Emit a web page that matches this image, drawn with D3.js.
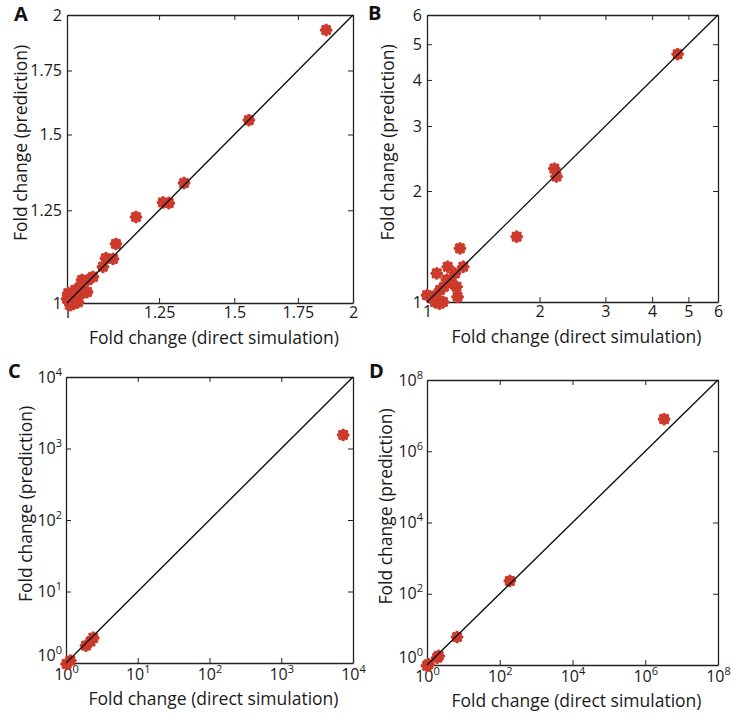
<!DOCTYPE html>
<html>
<head>
<meta charset="utf-8">
<script src="https://cdn.jsdelivr.net/npm/d3@7"></script>
<style>
  body { margin: 0; background: #fff; }
  svg { display: block; font-family: "Open Sans", "Liberation Sans", sans-serif; }
</style>
</head>
<body>
<div id="chart"></div>
<script>
// panel A: small fold changes
const aDirect = [1.874, 1.554, 1.328, 1.262, 1.280, 1.182, 1.126, 1.099, 1.118, 1.091, 1.065, 1.052, 1.037,
  1.032, 1.020, 1.003, 1.000, 1.027, 1.020, 1.039, 1.012, 1.050, 1.008, 1.015];
const aPredict = [1.929, 1.553, 1.335, 1.274, 1.272, 1.230, 1.153, 1.114, 1.112, 1.091, 1.065, 1.057, 1.057,
  1.039, 1.032, 1.024, 1.010, 1.002, 1.007, 1.024, 1.014, 1.027, 0.995, 0.998];
const aTicks = [1, 1.25, 1.5, 1.75, 2];

// panel B
const bDirect = [4.68, 2.19, 2.22, 1.737, 1.225, 1.25, 1.136, 1.062, 1.188, 1.164, 1.20, 1.207, 1.083,
  1.00, 1.062, 1.104, 1.04, 1.13, 1.11, 1.08, 1.05];
const bPredict = [4.70, 2.30, 2.19, 1.504, 1.398, 1.246, 1.246, 1.196, 1.196, 1.124, 1.10, 1.033, 1.078,
  1.044, 1.011, 1.000, 1.033, 1.15, 1.10, 0.99, 1.00];
const bTicks = [1, 2, 3, 4, 5, 6];

// panel C
const cDirect = [1.02, 1.15, 1.9, 2.2, 2.4, 7300];
const cPredict = [0.97, 1.08, 1.75, 2.0, 2.25, 1550];
const cTicks = [1, 10, 100, 1000, 10000];

// panel D
const dDirect = [1.0, 1.1, 1.9, 2.1, 6.7, 190, 3.3e6];
const dPredict = [0.95, 1.05, 1.6, 1.8, 6.1, 230, 8e6];
const dTicks = [1, 1e2, 1e4, 1e6, 1e8];

const panels = [
  { letter: "A", lx: 14, ly: 21, x0: 67, y0: 15, w: 286, h: 288, dom: [1, 2], ticks: aTicks, pow: false, ylab: -46, xs: aDirect, ys: aPredict },
  { letter: "B", lx: 368, ly: 20, x0: 427, y0: 15, w: 291, h: 287, dom: [1, 6], ticks: bTicks, pow: false, ylab: -39, xs: bDirect, ys: bPredict },
  { letter: "C", lx: 8, ly: 378, x0: 66, y0: 377, w: 287, h: 286, dom: [1, 1e4], ticks: cTicks, pow: true, ylab: -40, xs: cDirect, ys: cPredict },
  { letter: "D", lx: 369, ly: 378, x0: 427, y0: 380, w: 291, h: 285, dom: [1, 1e8], ticks: dTicks, pow: true, ylab: -41, xs: dDirect, ys: dPredict }
];

const svg = d3.select("#chart").append("svg")
  .attr("width", 731)
  .attr("height", 719);

const red = "#cc3a2b";

function powLabel(sel, d) {
  const e = Math.round(Math.log10(d));
  sel.text(null);
  sel.append("tspan").text("10");
  sel.append("tspan").attr("font-size", 11).attr("dy", -7).text(e);
}

panels.forEach(p => {
  const x = d3.scaleLog().domain(p.dom).range([p.x0, p.x0 + p.w]);
  const y = d3.scaleLog().domain(p.dom).range([p.y0 + p.h, p.y0]);
  const g = svg.append("g");

  const fmt = p.pow ? (() => "") : (d => String(d));

  const xAxis = g.append("g").attr("transform", `translate(0,${p.y0 + p.h})`)
    .call(d3.axisBottom(x).tickValues(p.ticks).tickSizeInner(-5).tickSizeOuter(0).tickPadding(p.pow ? 6 : 4).tickFormat(fmt));
  const yAxis = g.append("g").attr("transform", `translate(${p.x0},0)`)
    .call(d3.axisLeft(y).tickValues(p.ticks).tickSizeInner(-5).tickSizeOuter(0).tickPadding(p.pow ? 4 : 5).tickFormat(fmt));
  g.append("g").attr("transform", `translate(0,${p.y0})`)
    .call(d3.axisTop(x).tickValues(p.ticks).tickSizeInner(-5).tickSizeOuter(0).tickFormat(""));
  g.append("g").attr("transform", `translate(${p.x0 + p.w},0)`)
    .call(d3.axisRight(y).tickValues(p.ticks).tickSizeInner(-5).tickSizeOuter(0).tickFormat(""));

  g.selectAll(".domain").attr("stroke", "#222").attr("stroke-width", 1.3);
  g.selectAll(".tick line").attr("stroke", "#222").attr("stroke-width", 1);
  g.selectAll(".tick text").attr("font-size", 16).attr("fill", "#1a1a1a")
    .attr("font-family", "\"Open Sans\", sans-serif");

  if (p.pow) {
    xAxis.selectAll(".tick text").each(function (d) { powLabel(d3.select(this), d); });
    yAxis.selectAll(".tick text").each(function (d, i) {
      powLabel(d3.select(this), d);
      if (i === 0) d3.select(this).attr("y", -8);
    });
  }

  // markers (8-armed asterisks drawn thick so they read as blobs)
  const pts = p.xs.map((v, i) => [v, p.ys[i]]);
  const r = 4.6;
  const star = `M${-r},0L${r},0M0,${-r}L0,${r}M${-r * 0.707},${-r * 0.707}L${r * 0.707},${r * 0.707}M${-r * 0.707},${r * 0.707}L${r * 0.707},${-r * 0.707}`;
  const mk = g.selectAll(".mk").data(pts).enter().append("g")
    .attr("class", "mk")
    .attr("transform", d => `translate(${x(d[0])},${y(d[1])})`);
  mk.append("circle").attr("r", 4.6).attr("fill", "#c23526");
  mk.append("path").attr("d", star)
    .attr("stroke", red).attr("stroke-width", 3.7).attr("stroke-linecap", "round").attr("fill", "none");

  // identity line
  g.append("line")
    .attr("x1", x(p.dom[0])).attr("y1", y(p.dom[0]))
    .attr("x2", x(p.dom[1])).attr("y2", y(p.dom[1]))
    .attr("stroke", "#111").attr("stroke-width", 1.4);

  g.append("text")
    .attr("x", p.x0 + p.w / 2 + 4)
    .attr("y", p.y0 + p.h + (p.pow ? 42 : 41))
    .attr("text-anchor", "middle")
    .attr("font-size", 17.5)
    .attr("fill", "#1a1a1a")
    .text("Fold change (direct simulation)");

  g.append("text")
    .attr("transform", `translate(${p.x0 + p.ylab},${p.y0 + p.h / 2 - 16}) rotate(-90)`)
    .attr("text-anchor", "middle")
    .attr("dy", "0.35em")
    .attr("font-size", 17.5)
    .attr("fill", "#1a1a1a")
    .text("Fold change (prediction)");

  g.append("text")
    .attr("x", p.lx).attr("y", p.ly)
    .attr("font-size", 20)
    .attr("font-weight", "bold")
    .attr("fill", "#111")
    .text(p.letter);
});
</script>
</body>
</html>
